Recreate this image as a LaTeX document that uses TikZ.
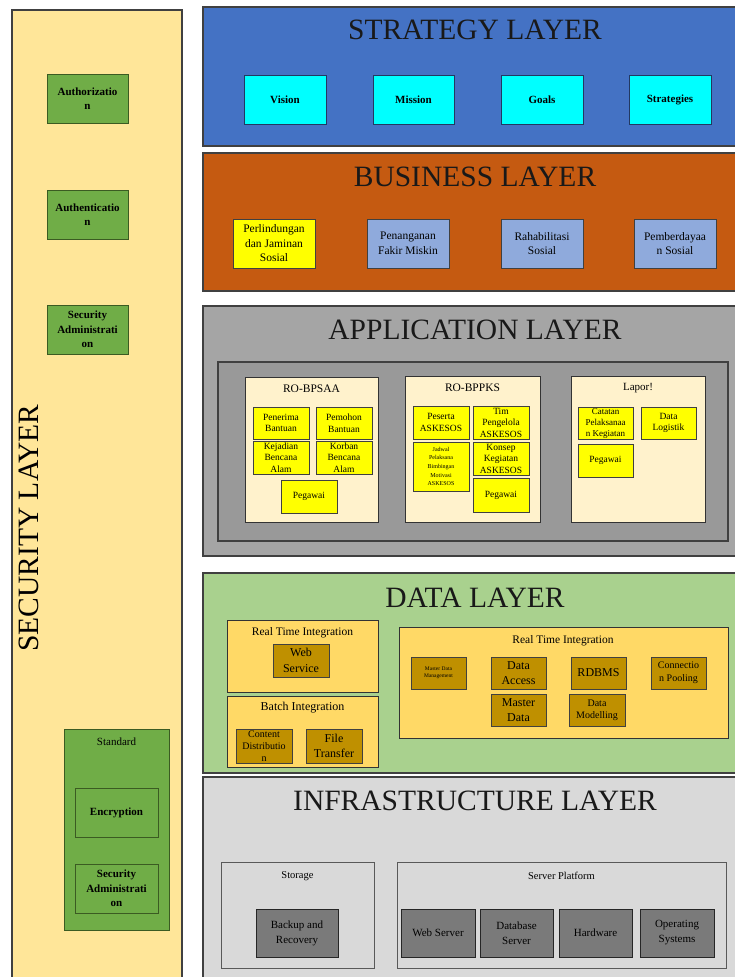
\documentclass[tikz,border=0pt]{standalone}
\usepackage{fontspec}
\setmainfont{Liberation Serif}
\definecolor{secfill}{HTML}{FFE699}
\definecolor{grn}{HTML}{70AD47}
\definecolor{grnd}{HTML}{3B5B22}
\definecolor{strat}{HTML}{4472C4}
\definecolor{cyanb}{HTML}{00FFFF}
\definecolor{busi}{HTML}{C55A11}
\definecolor{lblue}{HTML}{8FAADC}
\definecolor{yel}{HTML}{FFFF00}
\definecolor{appo}{HTML}{A5A5A5}
\definecolor{appi}{HTML}{999999}
\definecolor{cream}{HTML}{FFF2CC}
\definecolor{datal}{HTML}{A9D18E}
\definecolor{gold}{HTML}{FFD966}
\definecolor{dgold}{HTML}{BF9000}
\definecolor{infra}{HTML}{D9D9D9}
\definecolor{dgray}{HTML}{7A7A7A}
\newcommand\rbx[7]{\node[#6, minimum width={#4-#2}, minimum height={#5-#3}] (#1) at ({(#2+#4)/2},{(#3+#5)/2}) {#7};}
\tikzset{
  lay/.style={draw=black!75, line width=1.1pt, inner sep=0pt, outer sep=0pt},
  bx/.style={draw=black!80, line width=1pt, inner sep=0pt, outer sep=0pt, align=center},
  ttl/.style={anchor=base, inner sep=0pt, font=\fontsize{29.5}{32}\selectfont, text=black!90},
  sub/.style={anchor=center, inner sep=0pt, font=\fontsize{11}{13}\selectfont},
  gbx/.style={bx, fill=grn, draw=grnd, font=\bfseries\fontsize{11}{14.5}\selectfont},
  cbx/.style={bx, fill=cyanb, draw=strat!50!black, font=\bfseries\fontsize{11}{13}\selectfont},
  ybx/.style={bx, fill=yel, draw=black!75, font=\fontsize{9.5}{11.5}\selectfont},
  lbx/.style={bx, fill=lblue, draw=black!75, font=\fontsize{11.5}{14.5}\selectfont},
  dbx/.style={bx, fill=dgold, draw=black!75, font=\fontsize{12}{15}\selectfont},
  ibx/.style={bx, fill=dgray, draw=black!85, font=\fontsize{11}{15}\selectfont},
}
\begin{document}
\begin{tikzpicture}[x=1pt,y=-1pt]
\useasboundingbox[fill=white] (0,0) rectangle (734,977);
% ---------- security layer
\rbx{sec}{12}{10}{182}{979}{lay, fill=secfill}{}
\node[rotate=90, anchor=base, inner sep=0pt, font=\fontsize{29.5}{32}\selectfont] (sect) at (38,528) {SECURITY LAYER};
\rbx{auth}{47}{74}{128}{123}{gbx}{Authorizatio\\n}
\rbx{authn}{47}{190}{128}{239}{gbx}{Authenticatio\\n}
\rbx{sadm}{47}{305}{128}{354}{gbx}{Security\\Administrati\\on}
\rbx{std}{64}{729}{169}{930}{bx, fill=grn, draw=grnd}{}
\node[sub] (stdt) at (116.5,742) {Standard};
\rbx{enc}{75}{788}{158}{837}{gbx}{Encryption}
\rbx{sadm2}{75}{864}{158}{913}{gbx}{Security\\Administrati\\on}
% ---------- strategy layer
\rbx{strat}{203}{7}{740}{146}{lay, fill=strat}{}
\node[ttl] (strt) at (475,39) {STRATEGY LAYER};
\rbx{vis}{244}{75}{326}{124}{cbx}{Vision}
\rbx{mis}{373}{75}{454}{124}{cbx}{Mission}
\rbx{goa}{501}{75}{583}{124}{cbx}{Goals}
\rbx{sts}{629}{75}{711}{124}{cbx}{Strategies}
% ---------- business layer
\rbx{bus}{203}{153}{740}{291}{lay, fill=busi}{}
\node[ttl] (bust) at (475,186) {BUSINESS LAYER};
\rbx{per}{233}{219}{315}{268}{lbx, fill=yel}{Perlindungan\\dan Jaminan\\Sosial}
\rbx{pfm}{367}{219}{449}{268}{lbx}{Penanganan\\Fakir Miskin}
\rbx{rso}{501}{219}{583}{268}{lbx}{Rahabilitasi\\Sosial}
\rbx{pso}{634}{219}{716}{268}{lbx}{Pemberdayaa\\n Sosial}
% ---------- application layer
\rbx{app}{203}{306}{740}{556}{lay, fill=appo}{}
\node[ttl] (appt) at (475,339) {APPLICATION LAYER};
\rbx{appin}{218}{362}{728}{541}{lay, fill=appi}{}
\rbx{bpsaa}{245}{377}{378}{522}{bx, fill=cream}{}
\node[sub, font=\fontsize{11.5}{13}\selectfont] (bpsaat) at (311.5,389) {RO-BPSAA};
\rbx{pnb}{253}{407}{309}{439}{ybx}{Penerima\\Bantuan}
\rbx{pmb}{316}{407}{372}{439}{ybx}{Pemohon\\Bantuan}
\rbx{kba}{253}{441}{309}{474}{ybx}{Kejadian\\Bencana\\Alam}
\rbx{kra}{316}{441}{372}{474}{ybx}{Korban\\Bencana\\Alam}
\rbx{pg1}{281}{480}{337}{513}{ybx}{Pegawai}
\rbx{bppks}{405}{376}{540}{522}{bx, fill=cream}{}
\node[sub, font=\fontsize{11.5}{13}\selectfont] (bppkst) at (472.5,388) {RO-BPPKS};
\rbx{psa}{413}{406}{469}{439}{ybx}{Peserta\\ASKESOS}
\rbx{tpa}{473}{406}{529}{439}{ybx}{Tim\\Pengelola\\ASKESOS}
\rbx{jad}{413}{442}{469}{491}{ybx, font=\fontsize{6}{8.7}\selectfont}{Jadwal\\Pelaksana\\Bimbingan\\Motivasi\\ASKESOS}
\rbx{kka}{473}{442}{529}{475}{ybx}{Konsep\\Kegiatan\\ASKESOS}
\rbx{pg2}{473}{478}{529}{512}{ybx}{Pegawai}
\rbx{lap}{571}{376}{705}{522}{bx, fill=cream}{}
\node[sub] (lapt) at (638,388) {Lapor!};
\rbx{cpk}{578}{407}{633}{439}{ybx, font=\fontsize{9}{11}\selectfont}{Catatan\\Pelaksanaa\\n Kegiatan}
\rbx{dlg}{641}{407}{696}{439}{ybx}{Data\\Logistik}
\rbx{pg3}{578}{444}{633}{477}{ybx}{Pegawai}
% ---------- data layer
\rbx{dat}{203}{573}{740}{773}{lay, fill=datal}{}
\node[ttl] (datt) at (475,607) {DATA LAYER};
\rbx{rti}{227}{620}{378}{692}{bx, fill=gold}{}
\node[sub, font=\fontsize{11.5}{13}\selectfont] (rtit) at (302.5,633) {Real Time Integration};
\rbx{wsv}{273}{644}{329}{677}{dbx, font=\fontsize{12}{15.5}\selectfont}{Web\\Service}
\rbx{bti}{227}{696}{378}{767}{bx, fill=gold}{}
\node[sub, font=\fontsize{12}{13}\selectfont] (btit) at (302.5,708) {Batch Integration};
\rbx{cdi}{236}{729}{292}{763}{dbx, font=\fontsize{10}{12}\selectfont}{Content\\Distributio\\n}
\rbx{ftr}{306}{729}{362}{763}{dbx}{File\\Transfer}
\rbx{rti2}{399}{627}{728}{738}{bx, fill=gold}{}
\node[sub, font=\fontsize{11.5}{13}\selectfont] (rti2t) at (563,641) {Real Time Integration};
\rbx{mdm}{411}{657}{466}{689}{dbx, font=\fontsize{5.5}{7}\selectfont}{Master Data\\Management}
\rbx{dac}{491}{657}{546}{689}{dbx}{Data\\Access}
\rbx{rdb}{571}{657}{626}{689}{dbx}{RDBMS}
\rbx{cpo}{651}{657}{706}{689}{dbx, font=\fontsize{10}{12.5}\selectfont}{Connectio\\n Pooling}
\rbx{mda}{491}{694}{546}{726}{dbx}{Master\\Data}
\rbx{dmo}{569}{694}{625}{726}{dbx, font=\fontsize{10}{12}\selectfont}{Data\\Modelling}
% ---------- infrastructure layer
\rbx{inf}{203}{777}{740}{980}{lay, fill=infra}{}
\node[ttl] (inft) at (475,810) {INFRASTRUCTURE LAYER};
\rbx{sto}{221}{862}{374}{968}{bx, fill=infra, draw=black!65}{}
\node[sub, font=\fontsize{10.5}{12}\selectfont] (stot) at (297.5,876) {Storage};
\rbx{bak}{256}{909}{338}{957}{ibx}{Backup and\\Recovery}
\rbx{spl}{397}{862}{726}{968}{bx, fill=infra, draw=black!65}{}
\node[sub, font=\fontsize{10.5}{12}\selectfont] (splt) at (561.5,876) {Server Platform};
\rbx{wsr}{401}{909}{475}{957}{ibx}{Web Server}
\rbx{dbs}{480}{909}{553}{957}{ibx}{Database\\Server}
\rbx{hwr}{559}{909}{632}{957}{ibx}{Hardware}
\rbx{ops}{640}{909}{714}{957}{ibx}{Operating\\Systems}
\end{tikzpicture}
\end{document}
